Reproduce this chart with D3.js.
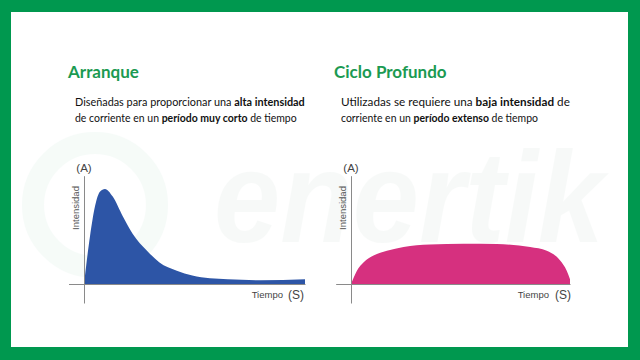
<!DOCTYPE html>
<html>
<head>
<meta charset="utf-8">
<script src="https://cdn.jsdelivr.net/npm/d3@7"></script>
<style>
  html, body { margin: 0; padding: 0; background: #ffffff; }
  svg { display: block; }
</style>
</head>
<body>
<div id="chart-container"></div>
<script>
// curve readings (time in % of axis, intensity in % of starting peak)
var arranqueTime = [0, 2.7, 5, 7.2, 9.5, 13, 17.6, 22, 28.5, 34, 42, 49, 57, 65, 80, 100];
var arranqueIntensity = [0, 50, 82, 97, 100, 92, 71, 53, 35, 23, 14, 9, 6, 5, 4, 5];

var cicloTime = [0, 2.7, 5.8, 10.3, 16.4, 24, 36, 51.4, 66.6, 81.8, 89.4, 95.4, 98.5, 100];
var cicloIntensity = [0, 14, 23, 30, 35, 39, 41.5, 42.5, 42, 39, 35, 25, 14, 5];

var titles = ["Arranque", "Ciclo Profundo"];
var line1Parts = [
  [["Diseñadas para proporcionar una ", false], ["alta intensidad", true]],
  [["Utilizadas se requiere una ", false], ["baja intensidad", true], [" de", false]]
];
var line2Parts = [
  [["de corriente en un ", false], ["período muy corto", true], [" de tiempo", false]],
  [["corriente en un ", false], ["período extenso", true], [" de tiempo", false]]
];
var yLabel = "Intensidad", yUnit = "(A)", xLabel = "Tiempo", xUnit = "(S)";

var W = 640, H = 360;
var green = "#00984f";

var svg = d3.select("#chart-container").append("svg")
    .attr("width", W).attr("height", H);

// green frame
svg.append("rect").attr("width", W).attr("height", H).attr("fill", green);
svg.append("rect").attr("x", 11).attr("y", 12).attr("width", 617).attr("height", 335).attr("fill", "#ffffff");

// faint watermark (logo behind the charts)
var wm = svg.append("g").attr("opacity", 0.03);
wm.append("circle").attr("cx", 95).attr("cy", 205).attr("r", 62)
    .attr("fill", "none").attr("stroke", green).attr("stroke-width", 22);
wm.append("text").attr("x", 214).attr("y", 242)
    .attr("font-family", "Liberation Sans, Arial, sans-serif")
    .attr("font-style", "italic").attr("font-weight", 700)
    .attr("font-size", 130).attr("fill", "#2a6a4a")
    .attr("textLength", 390).attr("lengthAdjust", "spacingAndGlyphs")
    .text("enertik");

var panels = [
  {title: titles[0], tx: 68, px: 75, lw1: 230, lw2: 222, x0: 84, x1: 305,
   time: arranqueTime, vals: arranqueIntensity, color: "#2d55a6",
   labelX: 79, tiempoEnd: 283, unitEnd: 304},
  {title: titles[1], tx: 334, px: 341, lw1: 229, lw2: 197, x0: 351, x1: 570,
   time: cicloTime, vals: cicloIntensity, color: "#d6307f",
   labelX: 346, tiempoEnd: 549, unitEnd: 571}
];

var bodyFont = "Lato, 'Open Sans', sans-serif";
var axisFont = "'Liberation Sans', Arial, sans-serif";

panels.forEach(function(p, i) {
  var g = svg.append("g");

  g.append("text").attr("x", p.tx).attr("y", 78)
      .attr("font-family", bodyFont).attr("font-weight", 700)
      .attr("font-size", 17).attr("fill", "#1b9a52")
      .text(p.title);

  // body lines, squeezed horizontally to the width of the original's condensed face
  [[line1Parts[i], 106, p.lw1], [line2Parts[i], 122, p.lw2]].forEach(function(l) {
    var t = g.append("text")
        .attr("font-family", bodyFont).attr("font-size", 12).attr("fill", "#111");
    l[0].forEach(function(s) {
      t.append("tspan").attr("font-weight", s[1] ? 700 : 400).text(s[0]);
    });
    var natural = t.node().getComputedTextLength();
    t.attr("transform", "translate(" + p.px + "," + l[1] + ") scale(" + (l[2] / natural) + ",1)");
  });

  // scales
  var x = d3.scaleLinear().domain([0, 100]).range([p.x0, p.x1]);
  var y = d3.scaleLinear().domain([0, 100]).range([284, 189]);

  var data = p.time.map(function(t, k) { return {t: t, v: p.vals[k]}; });

  var area = d3.area()
      .x(function(d) { return x(d.t); })
      .y0(y(0))
      .y1(function(d) { return y(d.v); })
      .curve(d3.curveMonotoneX);

  g.append("path").datum(data)
      .attr("d", area)
      .attr("fill", p.color);

  // axes, extended past the origin like the original
  var xAxisScale = d3.scaleLinear().domain([-7, 100]).range([x(-7), x(100)]);
  var yAxisScale = d3.scaleLinear().domain([-20, 114]).range([y(-20), y(114)]);

  var xa = g.append("g").attr("transform", "translate(0," + y(0) + ")")
      .call(d3.axisBottom(xAxisScale).ticks(0).tickSizeOuter(0));
  var ya = g.append("g").attr("transform", "translate(" + x(0) + ",0)")
      .call(d3.axisLeft(yAxisScale).ticks(0).tickSizeOuter(0));
  [xa, ya].forEach(function(a) {
    a.select(".domain").attr("stroke", "#8a8a8a").attr("stroke-width", 1);
  });

  g.append("text").attr("x", x(0)).attr("y", 172)
      .attr("text-anchor", "middle")
      .attr("font-family", axisFont).attr("font-size", 11.5).attr("fill", "#444")
      .text(yUnit);

  g.append("text")
      .attr("transform", "translate(" + p.labelX + "," + 208 + ") rotate(-90)")
      .attr("text-anchor", "middle")
      .attr("font-family", axisFont).attr("font-size", 9.5).attr("fill", "#555")
      .text(yLabel);

  g.append("text").attr("x", p.tiempoEnd).attr("y", 298)
      .attr("text-anchor", "end")
      .attr("font-family", axisFont).attr("font-size", 9.5).attr("fill", "#444")
      .text(xLabel);

  g.append("text").attr("x", p.unitEnd).attr("y", 299)
      .attr("text-anchor", "end")
      .attr("font-family", axisFont).attr("font-size", 12).attr("fill", "#444")
      .text(xUnit);
});
</script>
</body>
</html>
